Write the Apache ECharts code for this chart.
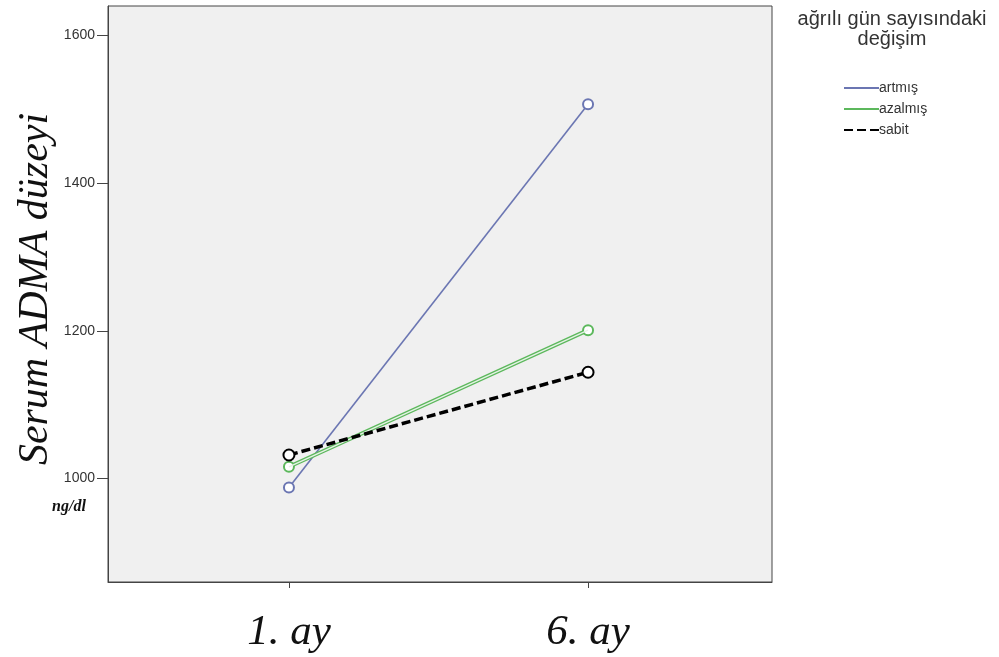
<!DOCTYPE html>
<html>
<head>
<meta charset="utf-8">
<script src="https://cdn.jsdelivr.net/npm/echarts@6/dist/echarts.min.js"></script>
<style>html,body{margin:0;padding:0;background:#fff}#c{width:999px;height:657px}</style>
</head>
<body>
<div id="c"></div>
<script>
const categories = ['1. ay', '6. ay'];
const yTicks = [1000, 1200, 1400, 1600];
const artmis = [988, 1507];
const azalmis = [1016, 1201];
const sabit = [1032, 1144];
const legendTitle = 'ağrılı gün sayısındaki\ndeğişim';
const seriesNames = ['artmış', 'azalmış', 'sabit'];

const pts = arr => arr.map((v, i) => [i, v]);
const chart = echarts.init(document.getElementById('c'));
chart.setOption({
  backgroundColor: '#fff',
  animation: false,
  grid: { left: 108, right: 227, top: 6, bottom: 75, show: true, backgroundColor: '#f0f0f0', borderColor: '#444', borderWidth: 1 },
  xAxis: {
    type: 'value', min: -0.605, max: 1.615,
    splitLine: { show: false },
    axisLine: { onZero: false, lineStyle: { color: '#444' } },
    axisTick: { show: true, length: 6, lineStyle: { color: '#444' }, customValues: [0, 1] },
    axisLabel: {
      customValues: [0, 1],
      formatter: v => categories[Math.round(v)],
      fontFamily: 'Liberation Serif', fontStyle: 'italic', fontSize: 43, color: '#111', margin: 29
    }
  },
  yAxis: {
    type: 'value', min: 860, max: 1640,
    splitLine: { show: false },
    axisLine: { show: true, onZero: false, lineStyle: { color: '#444' } },
    axisTick: { show: true, length: 11, lineStyle: { color: '#444' }, customValues: yTicks },
    axisLabel: { customValues: yTicks, formatter: v => String(v), fontFamily: 'Liberation Sans', fontSize: 14, color: '#333', margin: 13 }
  },
  legend: {
    data: seriesNames,
    orient: 'vertical', left: 843, top: 81, padding: 0,
    itemWidth: 35, itemHeight: 14, itemGap: 7,
    itemStyle: { opacity: 0 },
    textStyle: { fontFamily: 'Liberation Sans', fontSize: 14, color: '#333', padding: [0, 0, 0, -5] }
  },
  graphic: [
    { type: 'text', x: 892, y: 9, style: { text: legendTitle, fontFamily: 'Liberation Sans', fontSize: 20, fill: '#333', align: 'center', lineHeight: 20 } },
    { type: 'text', x: 36, y: 289, rotation: Math.PI / 2, style: { text: 'Serum ADMA düzeyi', fontFamily: 'Liberation Serif', fontStyle: 'italic', fontSize: 42, fill: '#111', align: 'center', verticalAlign: 'middle' } },
    { type: 'text', x: 69, y: 507, style: { text: 'ng/dl', fontFamily: 'Liberation Serif', fontStyle: 'italic', fontWeight: 'bold', fontSize: 16, fill: '#111', align: 'center', verticalAlign: 'middle' } }
  ],
  series: [
    { name: 'artmış', type: 'line', data: pts(artmis), symbol: 'emptyCircle', symbolSize: 10,
      lineStyle: { color: '#6b76b2', width: 1.6 }, itemStyle: { color: '#6b76b2', borderWidth: 1.6 } },
    { name: 'azalmış', type: 'line', data: pts(azalmis), symbol: 'emptyCircle', symbolSize: 10,
      lineStyle: { color: '#5cb85c', width: 4 }, itemStyle: { color: '#5cb85c', borderWidth: 1.6 }, z: 3 },
    { name: 'azalmış-inner', type: 'line', data: pts(azalmis), symbol: 'none', silent: true,
      lineStyle: { color: '#e6f2e6', width: 1.4 }, z: 4 },
    { name: 'sabit', type: 'line', data: pts(sabit), symbol: 'emptyCircle', symbolSize: 11,
      lineStyle: { color: '#000', width: 3.5, type: [9, 4] }, itemStyle: { color: '#000', borderWidth: 1.4 }, z: 5 }
  ]
});
</script>
</body>
</html>
